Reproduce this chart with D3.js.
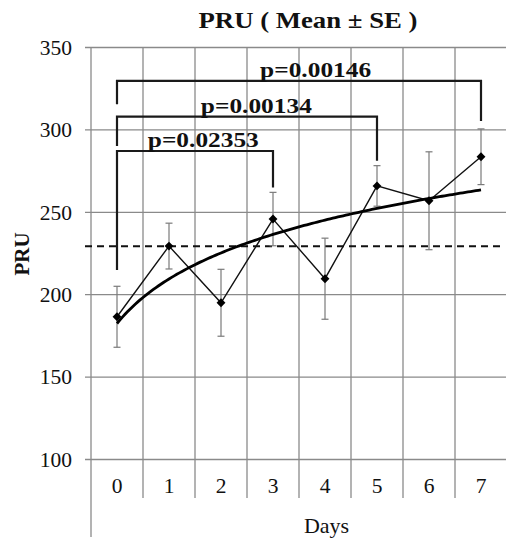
<!DOCTYPE html>
<html><head><meta charset="utf-8">
<script src="https://cdn.jsdelivr.net/npm/d3@7"></script>
<style>body{margin:0;background:#fff}svg{display:block}text{font-family:"Liberation Serif","Times New Roman",serif;fill:#111}</style>
</head><body><svg id="c" width="506" height="543"></svg>
<script>
const days = ["0","1","2","3","4","5","6","7"];
const means = [186.3, 229.2, 194.8, 245.6, 209.4, 265.7, 256.7, 283.4];
const ses = [18.5, 13.9, 20.3, 16.2, 24.6, 12.3, 29.7, 16.9];
const yTicks = [100, 150, 200, 250, 300, 350];
const refLevel = 229.1;
// brackets: from day index, to day index, bar level, left leg end, right leg end, label
const brFrom = [0, 0, 0];
const brTo = [3, 5, 7];
const brLevel = [286.9, 307.7, 329.5];
const brLeftEnd = [214.7, 289.9, 315.2];
const brRightEnd = [264.7, 281.0, 305.1];
const brLabel = ["p=0.02353", "p=0.00134", "p=0.00146"];
const brLabelPos = [1.66, 2.68, 3.82];
const title = "PRU ( Mean \u00B1 SE )";
const yTitle = "PRU";
const xTitle = "Days";

const svg = d3.select("#c");
const L = 91, R = 507, T = 47, B = 459;
const x = d3.scaleBand().domain(days).range([L, R]).padding(0);
const xc = i => x(days[0]) + x.bandwidth() * (i + 0.5);
const y = d3.scaleLinear().domain([100, 350]).range([B, T]);
const grid = "#8a8a8a";

// horizontal grid lines + y tick labels
const yAxis = d3.axisLeft(y).tickValues(yTicks).tickSize(6).tickPadding(13);
const gy = svg.append("g").attr("transform", `translate(${L},0)`).call(yAxis);
gy.select(".domain").remove();
gy.selectAll(".tick line").attr("x1", -6).attr("x2", R - L).attr("stroke", grid).attr("stroke-width", 1.3);
gy.selectAll(".tick text").attr("font-size", 21.5).attr("fill", "#111").attr("dy", "0.34em");

// vertical category lines
const dividers = d3.range(1, days.length).map(i => x(days[i]));
svg.append("g").selectAll("line").data(dividers).join("line")
  .attr("x1", d => d).attr("x2", d => d).attr("y1", T).attr("y2", 498)
  .attr("stroke", grid).attr("stroke-width", 1.3);
// left axis line
svg.append("line").attr("x1", L).attr("x2", L).attr("y1", T).attr("y2", 537)
  .attr("stroke", grid).attr("stroke-width", 1.3);

// x tick labels
svg.append("g").selectAll("text").data(days).join("text")
  .attr("x", d => x(d) + x.bandwidth() / 2).attr("y", 493)
  .attr("text-anchor", "middle").attr("font-size", 21.5).text(d => d);

// dashed reference line
svg.append("line").attr("x1", L - 6).attr("x2", R - 7)
  .attr("y1", y(refLevel)).attr("y2", y(refLevel))
  .attr("stroke", "#111").attr("stroke-width", 2).attr("stroke-dasharray", "7,5");

// error bars
const eb = svg.append("g").attr("stroke", "#7a7a7a").attr("stroke-width", 1.2);
means.forEach((m, i) => {
  const cx = xc(i);
  eb.append("line").attr("x1", cx).attr("x2", cx).attr("y1", y(m - ses[i])).attr("y2", y(m + ses[i]));
  eb.append("line").attr("x1", cx - 3.5).attr("x2", cx + 3.5).attr("y1", y(m - ses[i])).attr("y2", y(m - ses[i]));
  eb.append("line").attr("x1", cx - 3.5).attr("x2", cx + 3.5).attr("y1", y(m + ses[i])).attr("y2", y(m + ses[i]));
});

// data line
svg.append("path").datum(means)
  .attr("d", d3.line().x((d, i) => xc(i)).y(d => y(d)))
  .attr("fill", "none").attr("stroke", "#111").attr("stroke-width", 1.4);

// logarithmic trend line (least-squares fit on ln(day+1))
const lx = means.map((d, i) => Math.log(i + 1));
const mx = d3.mean(lx), my = d3.mean(means);
const slope = d3.sum(lx.map((v, i) => (v - mx) * (means[i] - my))) / d3.sum(lx.map(v => (v - mx) ** 2));
const icpt = my - slope * mx;
const tx = d3.range(0, days.length - 1 + 1e-9, 0.05);
svg.append("path").datum(tx)
  .attr("d", d3.line().x(t => xc(t)).y(t => y(icpt + slope * Math.log(t + 1))))
  .attr("fill", "none").attr("stroke", "#000").attr("stroke-width", 2.8);

// markers
svg.append("g").selectAll("path").data(means).join("path")
  .attr("d", d3.symbol().type(d3.symbolDiamond2).size(50))
  .attr("transform", (d, i) => `translate(${xc(i)},${y(d)})`)
  .attr("fill", "#000");

// brackets
const bg = svg.append("g");
brLevel.forEach((lv, k) => {
  const x0 = xc(brFrom[k]), x1 = xc(brTo[k]);
  bg.append("path")
    .attr("d", `M${x0},${y(brLeftEnd[k])}V${y(lv)}H${x1}V${y(brRightEnd[k])}`)
    .attr("fill", "none").attr("stroke", "#1a1a1a").attr("stroke-width", 2.2);
  bg.append("text").attr("x", xc(brLabelPos[k])).attr("y", y(lv) - 4)
    .attr("text-anchor", "middle").attr("font-size", 22).attr("font-weight", "bold")
    .attr("textLength", 111).attr("lengthAdjust", "spacingAndGlyphs")
    .text(brLabel[k]);
});

// titles
svg.append("text").attr("x", 308).attr("y", 28).attr("text-anchor", "middle")
  .attr("font-size", 23).attr("font-weight", "bold")
  .attr("textLength", 219).attr("lengthAdjust", "spacingAndGlyphs").text(title);
svg.append("text").attr("transform", "translate(29,254) rotate(-90)")
  .attr("text-anchor", "middle").attr("font-size", 21).attr("font-weight", "bold").text(yTitle);
svg.append("text").attr("x", 326.5).attr("y", 533).attr("text-anchor", "middle")
  .attr("font-size", 22).text(xTitle);
</script></body></html>
